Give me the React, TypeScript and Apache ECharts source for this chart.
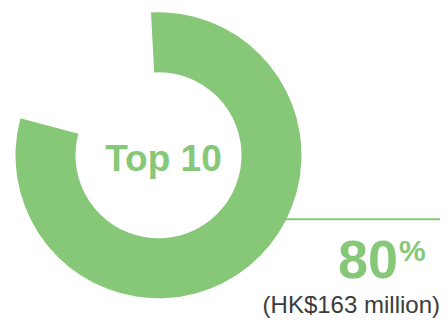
import React, { useEffect, useRef } from "react";
import * as echarts from "echarts";

const categories = ["Top 10", "Others"];
const values = [80, 20];
const amountLabel = "(HK$163 million)";

const GREEN = "#86C878";
const FONT = "'Liberation Sans', Arial, Helvetica, sans-serif";

export default function App() {
  const ref = useRef<HTMLDivElement>(null);
  useEffect(() => {
    if (!ref.current) return;
    const chart = echarts.init(ref.current, null, { renderer: "svg" });
    chart.setOption({
      animation: false,
      backgroundColor: "#ffffff",
      series: [
        {
          type: "pie",
          center: [158.5, 155.3],
          radius: [83, 143],
          startAngle: 93,
          clockwise: true,
          silent: true,
          label: { show: false },
          labelLine: { show: false },
          emphasis: { disabled: true },
          itemStyle: { borderWidth: 0 },
          data: categories.map((c, i) => ({
            name: c,
            value: values[i],
            itemStyle: { color: i === 0 ? GREEN : "rgba(0,0,0,0)" },
          })),
          z: 2,
        },
      ],
      graphic: [
        {
          type: "line",
          z: 0,
          shape: { x1: 270, y1: 219.3, x2: 440, y2: 219.3 },
          style: { stroke: GREEN, lineWidth: 2 },
        },
        {
          type: "text",
          z: 10,
          x: 163.5,
          y: 158,
          style: {
            text: categories[0],
            font: `bold 37px ${FONT}`,
            fill: GREEN,
            align: "center",
            verticalAlign: "middle",
          },
        },
        {
          type: "text",
          z: 10,
          x: 398,
          y: 259.3,
          style: {
            text: String(values[0]),
            font: `bold 54px ${FONT}`,
            fill: GREEN,
            align: "right",
            verticalAlign: "middle",
          },
        },
        {
          type: "text",
          z: 10,
          x: 399,
          y: 250,
          style: {
            text: "%",
            font: `bold 30px ${FONT}`,
            fill: GREEN,
            align: "left",
            verticalAlign: "middle",
          },
        },
        {
          type: "text",
          z: 10,
          x: 440,
          y: 304.7,
          style: {
            text: amountLabel,
            font: `24px ${FONT}`,
            fill: "#3c3c3c",
            align: "right",
            verticalAlign: "middle",
          },
        },
      ],
    });
    return () => chart.dispose();
  }, []);
  return (
    <div
      ref={ref}
      style={{ position: "absolute", left: 0, top: 0, width: 448, height: 320 }}
    />
  );
}
